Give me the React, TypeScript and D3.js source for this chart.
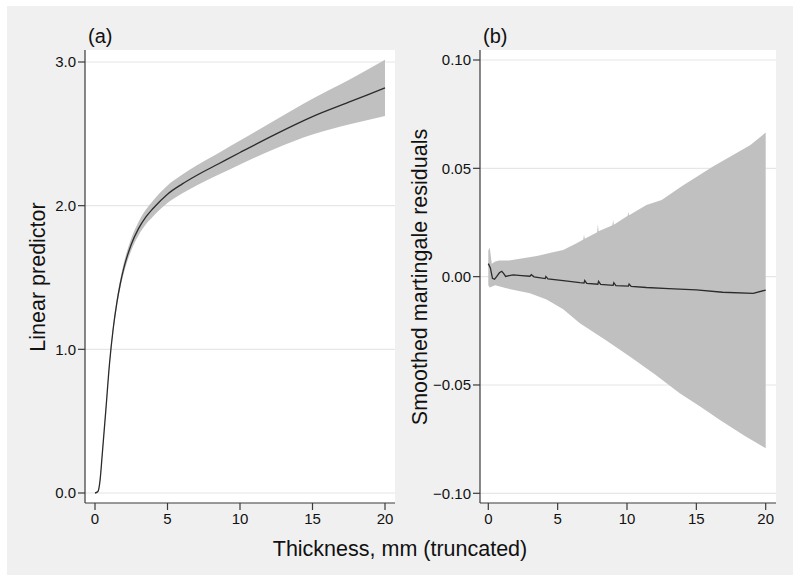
import React from "react";
import * as d3 from "d3";

// ---------- Panel (a): linear predictor ----------
const predT = [0, 0.2, 0.35, 0.5, 0.75, 1.0, 1.25, 1.5, 1.75, 2.0, 2.5, 3.0, 3.5, 4.0, 5, 6, 7, 8.5, 10, 12.5, 15, 17.5, 20];
const predValue = [0, 0.01, 0.09, 0.27, 0.58, 0.9, 1.14, 1.32, 1.46, 1.57, 1.73, 1.84, 1.92, 1.98, 2.08, 2.15, 2.21, 2.29, 2.37, 2.5, 2.62, 2.72, 2.82];
const predUpper = [0.005, 0.016, 0.098, 0.28, 0.595, 0.919, 1.164, 1.348, 1.492, 1.606, 1.772, 1.887, 1.971, 2.035, 2.141, 2.215, 2.279, 2.365, 2.453, 2.6, 2.745, 2.875, 3.015];
const predLower = [-0.005, 0.004, 0.082, 0.26, 0.565, 0.881, 1.116, 1.292, 1.428, 1.534, 1.688, 1.793, 1.869, 1.925, 2.019, 2.085, 2.141, 2.215, 2.287, 2.4, 2.495, 2.565, 2.625];
const predYTicks = [0, 1, 2, 3];
const xTicks = [0, 5, 10, 15, 20];

// ---------- Panel (b): smoothed martingale residuals ----------
const resT = [0, 0.15, 0.3, 0.45, 0.6, 0.8, 0.97, 1.1, 1.25, 1.5, 1.8, 2.4, 3.0, 3.1, 3.3, 4.1, 4.15, 4.3, 5.4, 6.6, 6.9, 6.95, 7.1, 7.9, 7.95, 8.1, 9.0, 9.05, 9.2, 10.1, 10.15, 10.3, 11.4, 13, 15, 16.9, 19.1, 20];
const resValue = [0.006, 0.004, -0.0008, -0.0012, 0.0, 0.0018, 0.0025, 0.0015, 0.0001, 0.0005, 0.0008, 0.0005, 0.0002, 0.0009, -0.0001, -0.0009, 0.0001, -0.001, -0.0018, -0.0028, -0.003, -0.0018, -0.0031, -0.0035, -0.0022, -0.0036, -0.004, -0.0028, -0.0041, -0.0044, -0.0034, -0.0045, -0.005, -0.0055, -0.0061, -0.0072, -0.0077, -0.0062];

const resUpperT = [0, 0.1, 0.25, 0.5, 0.8, 1.5, 2.5, 3.5, 4.5, 5.4, 6.4, 6.6, 6.85, 6.9, 6.95, 7.85, 7.9, 7.95, 8.95, 9.0, 9.05, 10.05, 10.1, 10.15, 11.4, 12.5, 14, 16.2, 18.9, 20];
const resUpper = [0.012, 0.0135, 0.006, 0.007, 0.0075, 0.0075, 0.0085, 0.0095, 0.011, 0.0123, 0.0155, 0.0162, 0.0172, 0.0195, 0.0175, 0.0205, 0.0243, 0.021, 0.0237, 0.0262, 0.024, 0.0281, 0.0298, 0.0283, 0.0331, 0.0354, 0.042, 0.0508, 0.0608, 0.0665];
const resLowerT = [0, 0.1, 0.5, 1.3, 3.0, 4.2, 5.4, 6.6, 8.4, 10.2, 12, 13.8, 15.3, 16.7, 18.5, 20];
const resLower = [-0.004, -0.005, -0.004, -0.0054, -0.0077, -0.0105, -0.015, -0.0215, -0.029, -0.0369, -0.045, -0.0538, -0.06, -0.0662, -0.0735, -0.0792];
const resYTicks = [-0.1, -0.05, 0, 0.05, 0.1];

const FONT = "'Liberation Sans', Arial, Helvetica, sans-serif";
const AXIS = "#3a3a3a";
const GRID = "#e6e6e6";
const BAND = "#c0c0c0";

export default function App() {
  const xA = d3.scaleLinear().domain([0, 20]).range([95, 385]);
  const yA = d3.scaleLinear().domain([0, 3]).range([493, 62]);
  const xB = d3.scaleLinear().domain([0, 20]).range([488.3, 765.7]);
  const yB = d3.scaleLinear().domain([-0.1, 0.1]).range([493.3, 60]);

  const idxA = predT.map((_, i) => i);
  const bandA = d3
    .area<number>()
    .x((i) => xA(predT[i]))
    .y0((i) => yA(predLower[i]))
    .y1((i) => yA(predUpper[i]))
    .curve(d3.curveMonotoneX)(idxA) as string;
  const lineA = d3
    .line<number>()
    .x((i) => xA(predT[i]))
    .y((i) => yA(predValue[i]))
    .curve(d3.curveMonotoneX)(idxA) as string;

  const bandPts: [number, number][] = [
    ...resUpperT.map((t, i) => [xB(t), yB(resUpper[i])] as [number, number]),
    ...resLowerT
      .map((t, i) => [xB(t), yB(resLower[i])] as [number, number])
      .reverse(),
  ];
  const bandB = d3.line().curve(d3.curveLinearClosed)(bandPts) as string;
  const lineB = d3
    .line<number>()
    .x((i) => xB(resT[i]))
    .y((i) => yB(resValue[i]))(resT.map((_, i) => i)) as string;

  const fmtA = d3.format(".1f");
  const fmtB = (v: number) => {
    const s = d3.format(".2f")(Math.abs(v));
    return v < -1e-9 ? "\u2212" + s : s;
  };

  return (
    <svg
      width={800}
      height={582}
      style={{ position: "absolute", left: 0, top: 0, background: "#fff" }}
      fontFamily={FONT}
    >
      <rect x={7} y={6} width={786} height={569} fill="#f0f0f0" />

      {/* Panel a */}
      <rect x={85} y={50} width={310} height={453} fill="#fff" />
      {predYTicks.map((v) => (
        <line key={"ga" + v} x1={85} x2={395} y1={yA(v)} y2={yA(v)} stroke={GRID} strokeWidth={1.2} />
      ))}
      <path d={bandA} fill={BAND} stroke="none" />
      <path d={lineA} fill="none" stroke="#2b2b2b" strokeWidth={1.3} />
      <line x1={85} x2={85} y1={50} y2={503} stroke={AXIS} strokeWidth={1.2} />
      <line x1={85} x2={395} y1={503} y2={503} stroke={AXIS} strokeWidth={1.2} />
      {predYTicks.map((v) => (
        <g key={"ta" + v}>
          <line x1={78} x2={85} y1={yA(v)} y2={yA(v)} stroke={AXIS} strokeWidth={1.2} />
          <text x={76} y={yA(v)} dy="0.35em" textAnchor="end" fontSize={15} fill="#111">
            {fmtA(v)}
          </text>
        </g>
      ))}
      {xTicks.map((v) => (
        <g key={"xa" + v}>
          <line x1={xA(v)} x2={xA(v)} y1={503} y2={510} stroke={AXIS} strokeWidth={1.2} />
          <text x={xA(v)} y={524} textAnchor="middle" fontSize={15} fill="#111">
            {v}
          </text>
        </g>
      ))}
      <text x={88} y={43} fontSize={20} fill="#111">(a)</text>
      <text transform="translate(45,277) rotate(-90)" textAnchor="middle" fontSize={21.5} fill="#111">
        Linear predictor
      </text>

      {/* Panel b */}
      <rect x={480} y={50} width={296} height={453} fill="#fff" />
      {resYTicks.map((v) => (
        <line key={"gb" + v} x1={480} x2={776} y1={yB(v)} y2={yB(v)} stroke={GRID} strokeWidth={1.2} />
      ))}
      <path d={bandB} fill={BAND} stroke="none" />
      <path d={lineB} fill="none" stroke="#2b2b2b" strokeWidth={1.3} />
      <line x1={480} x2={480} y1={50} y2={503} stroke={AXIS} strokeWidth={1.2} />
      <line x1={480} x2={776} y1={503} y2={503} stroke={AXIS} strokeWidth={1.2} />
      {resYTicks.map((v) => (
        <g key={"tb" + v}>
          <line x1={473} x2={480} y1={yB(v)} y2={yB(v)} stroke={AXIS} strokeWidth={1.2} />
          <text x={471} y={yB(v)} dy="0.35em" textAnchor="end" fontSize={15} fill="#111">
            {fmtB(v)}
          </text>
        </g>
      ))}
      {xTicks.map((v) => (
        <g key={"xb" + v}>
          <line x1={xB(v)} x2={xB(v)} y1={503} y2={510} stroke={AXIS} strokeWidth={1.2} />
          <text x={xB(v)} y={524} textAnchor="middle" fontSize={15} fill="#111">
            {v}
          </text>
        </g>
      ))}
      <text x={483} y={43} fontSize={20} fill="#111">(b)</text>
      <text transform="translate(427,277) rotate(-90)" textAnchor="middle" fontSize={21.5} fill="#111">
        Smoothed martingale residuals
      </text>

      <text x={400} y={556} textAnchor="middle" fontSize={21.5} fill="#111">
        Thickness, mm (truncated)
      </text>
    </svg>
  );
}
